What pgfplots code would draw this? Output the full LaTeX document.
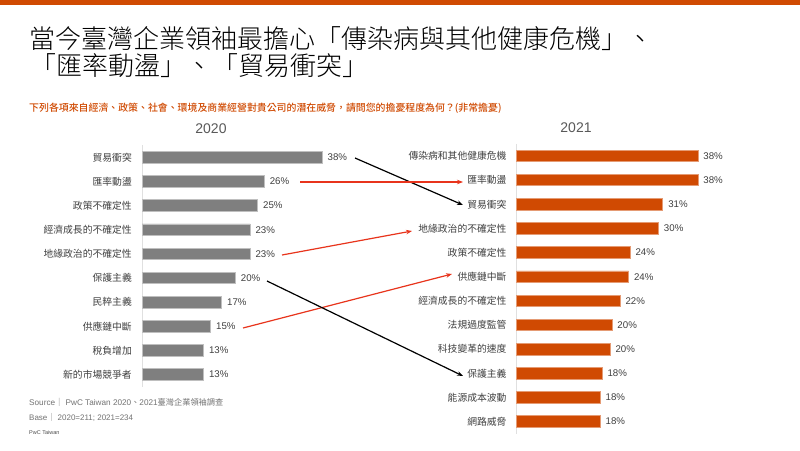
\documentclass[border=0pt]{standalone}
\usepackage{fontspec}
\setmainfont{Liberation Sans}
\newfontfamily\cjk{Noto Sans CJK TC}
\IfFontExistsTF{Noto Sans CJK TC Light}{\newfontfamily\cjklight{Noto Sans CJK TC Light}}{\newfontfamily\cjklight{Noto Sans CJK TC}}
\IfFontExistsTF{Noto Sans CJK TC Medium}{\newfontfamily\cjkmed{Noto Sans CJK TC Medium}}{\newfontfamily\cjkmed{Noto Sans CJK TC}}
\usepackage{pgfplots}
\pgfplotsset{compat=1.18}
\usetikzlibrary{arrows.meta}
\definecolor{pwcorange}{HTML}{D04A02}
\definecolor{bargray}{HTML}{7F7F7F}
\definecolor{txtgray}{HTML}{404040}
\definecolor{arrred}{HTML}{E8341C}
\pgfplotsset{
  panel/.style={
    scale only axis, clip=false,
    xmin=0, xmax=40, width=189.8pt,
    y dir=reverse,
    xbar, bar width=11.5pt,
    axis x line=none,
    axis y line*=left,
    y axis line style={draw=black!12, line width=0.8pt, -},
    major tick length=0pt,
    ytick={1,...,12},
    yticklabel style={font=\cjk\fontsize{9.8}{10}\selectfont, text=txtgray, inner sep=0pt, xshift=-10pt},
    point meta=explicit symbolic,
    nodes near coords={\pgfplotspointmeta\%},
    nodes near coords style={font=\fontsize{9.7}{10}\selectfont, text=txtgray, anchor=west, inner sep=0pt, xshift=5pt},
  }
}
\begin{document}
\begin{tikzpicture}[x=1pt,y=1pt]
\path[use as bounding box, fill=white] (0,0) rectangle (800,-450);
\fill[pwcorange] (0,0) rectangle (800,-5);
\node[anchor=base west, inner sep=0pt] at (29,-48.3) {\cjklight\fontsize{26}{28}\selectfont 當今臺灣企業領袖最擔心「傳染病與其他健康危機」、};
\node[anchor=base west, inner sep=0pt] at (30,-75) {\cjklight\fontsize{26}{28}\selectfont 「匯率動盪」、「貿易衝突」};
\node[anchor=base west, inner sep=0pt, text=pwcorange] at (29,-111.5) {\cjkmed\fontsize{9.9}{11}\selectfont 下列各項來自經濟、政策、社會、環境及商業經營對貴公司的潛在威脅，請問您的擔憂程度為何？(非常擔憂)};
\node[anchor=base, inner sep=0pt, text=black!65] at (211,-133) {\fontsize{14}{16}\selectfont 2020};
\node[anchor=base, inner sep=0pt, text=black!65] at (576,-132) {\fontsize{14}{16}\selectfont 2021};

\begin{axis}[panel, at={(142pt,-386.7pt)}, anchor=south west,
  height=241.5pt, ymin=0.5, ymax=10.5, ytick={1,...,10},
  yticklabels={貿易衝突,匯率動盪,政策不確定性,經濟成長的不確定性,地緣政治的不確定性,保護主義,民粹主義,供應鏈中斷,稅負增加,新的市場競爭者}]
\addplot[fill=bargray, draw=black!25, line width=0.8pt] coordinates {
(38.0,1) [38] (25.8,2) [26] (24.4,3) [25] (22.8,4) [23] (22.8,5) [23]
(19.7,6) [20] (16.8,7) [17] (14.5,8) [15] (13.0,9) [13] (13.0,10) [13]};
\end{axis}

\begin{axis}[panel, at={(516.7pt,-433.7pt)}, anchor=south west,
  height=289.8pt, ymin=0.5, ymax=12.5,
  yticklabels={傳染病和其他健康危機,匯率動盪,貿易衝突,地緣政治的不確定性,政策不確定性,供應鏈中斷,經濟成長的不確定性,法規過度監管,科技變革的速度,保護主義,能源成本波動,網路威脅}]
\addplot[fill=pwcorange, draw=pwcorange!55, line width=0.8pt] coordinates {
(38.2,1) [38] (38.2,2) [38] (30.8,3) [31] (29.9,4) [30] (23.9,5) [24] (23.6,6) [24]
(21.8,7) [22] (20.1,8) [20] (19.7,9) [20] (18.0,10) [18] (17.6,11) [18] (17.6,12) [18]};
\end{axis}

\draw[black, line width=1.2pt, -{Stealth[length=6pt,width=4.5pt]}] (355,-158) -- (463,-205);
\draw[arrred, line width=1.2pt, -{Stealth[length=6pt,width=4.5pt]}] (300,-182) -- (463,-182);
\draw[arrred, line width=1.2pt, -{Stealth[length=6pt,width=4.5pt]}] (282,-255) -- (412,-231);
\draw[arrred, line width=1.2pt, -{Stealth[length=6pt,width=4.5pt]}] (243,-328) -- (452,-274);
\draw[black, line width=1.2pt, -{Stealth[length=6pt,width=4.5pt]}] (267,-281) -- (463,-376);

\node[anchor=base west, inner sep=0pt, text=black!55] at (29,-405) {\fontsize{8.2}{9}\selectfont Source{\cjk│} PwC Taiwan 2020{\cjk、}2021{\cjk 臺灣企業領袖調查}};
\node[anchor=base west, inner sep=0pt, text=black!55] at (29,-420) {\fontsize{8}{9}\selectfont Base{\cjk│}\ 2020=211; 2021=234};
\node[anchor=base west, inner sep=0pt, text=black!70] at (29,-434) {\fontsize{5.5}{6}\selectfont PwC Taiwan};
\end{tikzpicture}
\end{document}
